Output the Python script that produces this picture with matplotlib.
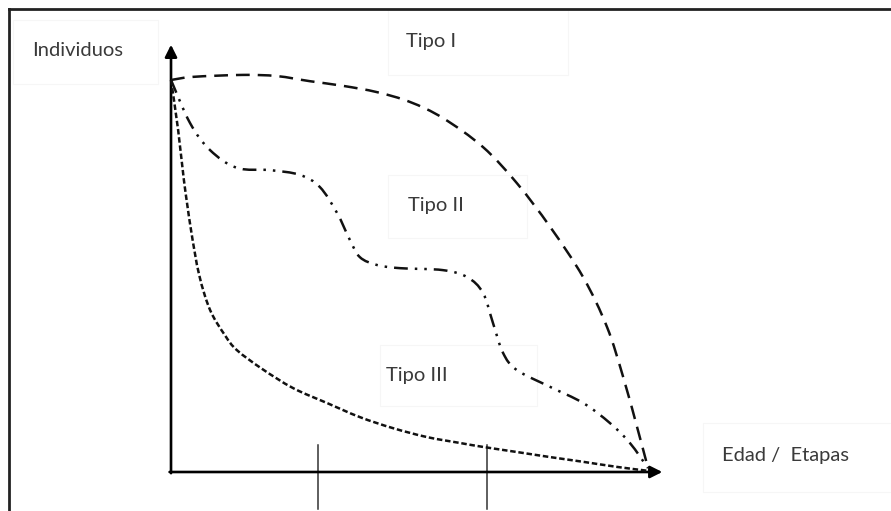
import matplotlib.pyplot as plt
import numpy as np
from matplotlib.lines import Line2D
from matplotlib.patches import Rectangle, PathPatch
from matplotlib.path import Path

# survival curves, x = age/stage (0..10), y = individuals (0..100)
tipo1_x = [0, 0.46, 1.51, 2.22, 2.91, 3.61, 4.32, 5.01, 5.70, 6.54, 7.25, 7.95, 8.64, 9.14, 9.48, 9.77, 10.0]
tipo1_y = [100, 100.8, 101.3, 101.0, 99.7, 98.5, 96.9, 94.4, 90.3, 82.9, 73.7, 62.5, 49.7, 37.0, 24.2, 11.5, 1.0]

tipo2_x = [0, 0.40, 0.82, 1.38, 2.08, 2.70, 3.12, 3.48, 3.75, 3.96, 4.32, 4.80, 5.70, 6.21, 6.54, 6.75,
           6.96, 7.25, 7.95, 8.64, 9.20, 9.62, 10.0]
tipo2_y = [100, 89.0, 82.1, 77.6, 77.0, 75.8, 72.7, 66.1, 59.2, 54.8, 52.8, 52.0, 51.5, 49.7, 45.7, 38.0,
           30.4, 26.0, 21.7, 17.6, 12.5, 7.4, 1.0]

tipo3_x = [0, 0.15, 0.27, 0.42, 0.59, 0.82, 1.13, 1.38, 1.91, 2.56, 3.27, 3.96, 4.65, 5.37, 6.06, 6.54,
           7.25, 7.95, 8.64, 9.35, 10.0]
tipo3_y = [100, 87.2, 74.5, 61.7, 50.3, 41.3, 34.9, 31.1, 26.3, 21.4, 17.6, 14.0, 11.2, 8.9, 7.4, 6.4,
           5.1, 3.8, 2.6, 1.3, 0.3]

stage_ticks = [3.08, 6.62]


def smooth_path(xs, ys, trans):
    # catmull-rom through the points, drawn as cubic bezier (in display space)
    p = trans.transform(np.column_stack([xs, ys]))
    verts = [p[0]]
    codes = [Path.MOVETO]
    n = len(p)
    for i in range(n - 1):
        p0 = p[i - 1] if i > 0 else p[i]
        p3 = p[i + 2] if i + 2 < n else p[i + 1]
        c1 = p[i] + (p[i + 1] - p0) / 6
        c2 = p[i + 1] - (p3 - p[i]) / 6
        verts += [c1, c2, p[i + 1]]
        codes += [Path.CURVE4] * 3
    return Path(verts, codes)


fig = plt.figure(figsize=(8.91, 5.11), dpi=100)
ax = fig.add_axes([0, 0, 1, 1])
ax.set_xlim(-3.585, 15.094)
ax.set_ylim(-9.95, 120.41)
ax.axis('off')

plt.rcParams['font.family'] = ['Lato', 'DejaVu Sans']
txt = dict(fontsize=14.5, color='#3a3a3a', va='center', ha='left')

# outer frame (only top and left visible)
fig.add_artist(Line2D([0.0101, 1.0], [0.9824, 0.9824], color='#222222', lw=2, transform=fig.transFigure))
fig.add_artist(Line2D([0.0101, 0.0101], [0.0, 0.9824], color='#222222', lw=2, transform=fig.transFigure))

# faint text boxes
for (x0, y0, w, h) in [(13, 20, 145, 64), (388, 10, 180, 65), (388, 175, 139, 63),
                       (380, 345, 157, 61), (703, 423, 188, 69)]:
    fig.add_artist(Rectangle((x0 / 891, 1 - (y0 + h) / 511), w / 891, h / 511,
                             transform=fig.transFigure, fill=False, ec='#f6f6f6', lw=0.8))

# axes with arrows
ax.annotate('', xy=(0, 109), xytext=(0, -0.3),
            arrowprops=dict(arrowstyle='-|>', lw=1.9, color='black', mutation_scale=18, shrinkA=0, shrinkB=0))
ax.annotate('', xy=(10.3, 0), xytext=(-0.03, 0),
            arrowprops=dict(arrowstyle='-|>', lw=1.9, color='black', mutation_scale=18, shrinkA=0, shrinkB=0))

for t in stage_ticks:
    ax.plot([t, t], [6.9, -9.5], color='#333333', lw=1.1)

fig.canvas.draw()
styles = [(tipo1_x, tipo1_y, (0, (5.5, 3.2))),
          (tipo2_x, tipo2_y, (0, (5.5, 2.8, 1, 2.8, 1, 2.8))),
          (tipo3_x, tipo3_y, (0, (2.2, 1.1)))]
for xs, ys, ls in styles:
    path = smooth_path(xs, ys, ax.transData)
    fig.add_artist(PathPatch(path, fill=False, ec='#111111', lw=1.8, ls=ls, transform=None))

fig.text(32 / 891, 1 - 50 / 511, 'Individuos', **txt)
fig.text(406 / 891, 1 - 42 / 511, 'Tipo I', **txt)
fig.text(408 / 891, 1 - 205 / 511, 'Tipo II', **txt)
fig.text(386 / 891, 1 - 376 / 511, 'Tipo III', **txt)
fig.text(722 / 891, 1 - 455 / 511, 'Edad /  Etapas', **txt)

fig.savefig('out.png', dpi=100)
